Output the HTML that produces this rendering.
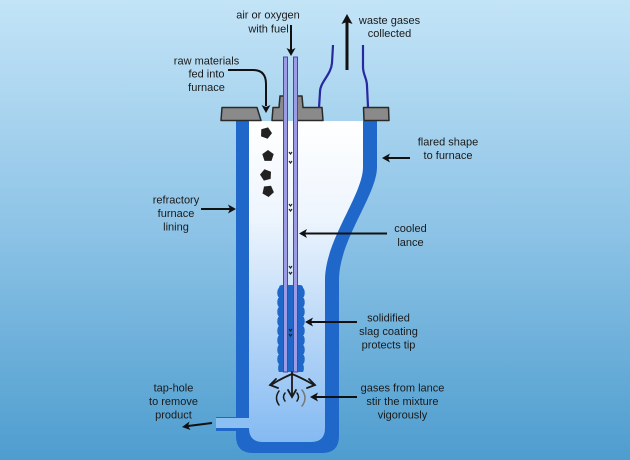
<!DOCTYPE html>
<html><head><meta charset="utf-8">
<style>
html,body{margin:0;padding:0;width:630px;height:460px;overflow:hidden;}
svg{display:block;}
text{font-family:"Liberation Sans",sans-serif;font-size:11px;fill:#1a1a1a;text-anchor:middle;}
</style></head>
<body>
<svg width="630" height="460" viewBox="0 0 630 460" xmlns="http://www.w3.org/2000/svg">
<defs>
<linearGradient id="bg" x1="0" y1="0" x2="0" y2="1">
<stop offset="0" stop-color="#c3e4f7"/>
<stop offset="0.5" stop-color="#8dc3e6"/>
<stop offset="1" stop-color="#4e9dcf"/>
</linearGradient>
<linearGradient id="inner" x1="0" y1="121" x2="0" y2="442" gradientUnits="userSpaceOnUse">
<stop offset="0" stop-color="#ffffff"/>
<stop offset="0.3" stop-color="#eef5fd"/>
<stop offset="1" stop-color="#84baf2"/>
</linearGradient>
</defs>
<rect width="630" height="460" fill="url(#bg)"/>

<!-- furnace walls -->
<path d="M236,121 L377,121 L377,167 C377,195 339,240 339,280 L339,436 Q339,453 322,453 L253,453 Q236,453 236,436 Z" fill="#1f67c9"/>
<!-- inner -->
<path d="M249,121 L363,121 L363,167 C363,195 325,240 325,280 L325,428 Q325,442 311,442 L263,442 Q249,442 249,428 Z" fill="url(#inner)"/>
<!-- tap hole -->
<rect x="216" y="417" width="33" height="14" fill="#1f67c9"/>
<rect x="216" y="418" width="36" height="10" fill="#8cc0f2"/>

<!-- raw material lumps -->
<g fill="#222">
<polygon points="0,-6 5.7,-1.9 3.5,4.9 -3.5,4.9 -5.7,-1.9" transform="translate(266,133) rotate(20)"/>
<polygon points="0,-6 5.7,-1.9 3.5,4.9 -3.5,4.9 -5.7,-1.9" transform="translate(268,156) rotate(0)"/>
<polygon points="0,-6 5.7,-1.9 3.5,4.9 -3.5,4.9 -5.7,-1.9" transform="translate(266,175) rotate(-15)"/>
<polygon points="0,-6 5.7,-1.9 3.5,4.9 -3.5,4.9 -5.7,-1.9" transform="translate(268,191) rotate(30)"/>
</g>

<!-- slag coating -->
<path d="M279,288 Q279,285 282,285 L300,285 Q303,285 303,288
a2,4.8 0 0 1 0,9.5 a2,4.8 0 0 1 0,9.5 a2,4.8 0 0 1 0,9.5 a2,4.8 0 0 1 0,9.5 a2,4.8 0 0 1 0,9.5 a2,4.8 0 0 1 0,9.5 a2,4.8 0 0 1 0,9.5 a2,4.8 0 0 1 0,9.5 a2,4.8 0 0 1 0,8
L279,372
a2,4.8 0 0 1 0,-8 a2,4.8 0 0 1 0,-9.5 a2,4.8 0 0 1 0,-9.5 a2,4.8 0 0 1 0,-9.5 a2,4.8 0 0 1 0,-9.5 a2,4.8 0 0 1 0,-9.5 a2,4.8 0 0 1 0,-9.5 a2,4.8 0 0 1 0,-9.5 a2,4.8 0 0 1 0,-9.5 Z" fill="#1f67c9"/>

<!-- lid pieces -->
<g fill="#8a8a8a" stroke="#2a2a2a" stroke-width="1.5" stroke-linejoin="round">
<path d="M222,107.5 L257,107.5 L261,120.5 L221,120.5 Z"/>
<path d="M272,120.5 L273,107.5 L279,107.5 L280,96 L284,96 L285,120.5 Z"/>
<path d="M297,120.5 L297,96 L302,96 L303,107.5 L322,107.5 L323,120.5 Z"/>
<path d="M363.5,107.5 L388.5,107.5 L389,120.5 L364,120.5 Z"/>
</g>

<!-- lance tubes -->
<rect x="283.5" y="57" width="4" height="315" fill="#9c9ce6" stroke="#4646b0" stroke-width="1"/>
<rect x="293.5" y="57" width="4" height="315" fill="#9c9ce6" stroke="#4646b0" stroke-width="1"/>

<!-- chevrons inside lance -->
<g fill="none" stroke="#222" stroke-width="1.2">
<path d="M289,152 l1.5,2 l1.5,-2"/><path d="M289,161 l1.5,2 l1.5,-2"/>
<path d="M289,204 l1.5,2 l1.5,-2"/><path d="M289,209 l1.5,2 l1.5,-2"/>
<path d="M289,266 l1.5,2 l1.5,-2"/><path d="M289,272 l1.5,2 l1.5,-2"/>
<path d="M289,329 l1.5,2 l1.5,-2"/><path d="M289,334 l1.5,2 l1.5,-2"/>
</g>

<!-- waste gas pipes -->
<g fill="none" stroke="#2828a0" stroke-width="2.2">
<path d="M333,45 L332,63 C331,75 320,82 320,92 L319,108"/>
<path d="M363,45 L363,67 C363,75 367,78 367,86 L368,107"/>
</g>

<!-- gas jet arrows at tip -->
<g fill="none" stroke="#1a1a1a" stroke-width="1.8" stroke-linecap="round">
<path d="M292,372 L292,396"/>
<path d="M288,390 L292,397 L296,390"/>
<path d="M292,374 Q282,378 271,385"/>
<path d="M276,379 L270,385 L278,388"/>
<path d="M292,374 Q302,378 314,385"/>
<path d="M309,379 L315,385 L307,388"/>
<path d="M279,391 Q274,398 279,405" stroke-width="1.5"/>
<path d="M285,393 Q282,397 285,401" stroke-width="1.5"/>
<path d="M297,393 Q300,397 297,401" stroke-width="1.5"/>
<path d="M302,390 Q308,398 302,406" stroke="#777" stroke-width="1.5"/>
</g>

<!-- label arrows -->
<g stroke="#111" stroke-width="2" fill="none">
<line x1="291" y1="25" x2="291" y2="50"/>
<line x1="347" y1="70" x2="347" y2="22" stroke-width="3"/>
<path d="M228,70 L253,70 Q266,70 266,84 L266,106"/>
<line x1="410" y1="158" x2="387" y2="158"/>
<line x1="387" y1="233.5" x2="304" y2="233.5"/>
<line x1="201" y1="209" x2="230" y2="209"/>
<line x1="357" y1="322" x2="310" y2="322"/>
<line x1="357" y1="397" x2="315" y2="397"/>
<line x1="212" y1="423" x2="188" y2="426"/>
</g>
<g fill="#111">
<polygon points="291,56 286.5,48 291,50 295.5,48"/>
<polygon points="347,14 341.5,24 347,22 352.5,24"/>
<polygon points="266,113 261.5,105 266,107 270.5,105"/>
<polygon points="382,158 390,153.5 388,158 390,162.5"/>
<polygon points="299,233.5 307,229 305,233.5 307,238"/>
<polygon points="236,209 228,204.5 230,209 228,213.5"/>
<polygon points="305,322 313,317.5 311,322 313,326.5"/>
<polygon points="310,397 318,392.5 316,397 318,401.5"/>
<polygon points="182,427 189.5,421.5 188,426 190.5,430"/>
</g>

<!-- labels -->
<text x="268" y="18.5">air or oxygen</text>
<text x="268.5" y="32.5">with fuel</text>
<text x="389.5" y="24">waste gases</text>
<text x="389.5" y="37">collected</text>
<text x="206.5" y="64.5">raw materials</text>
<text x="206.5" y="77.5">fed into</text>
<text x="206.5" y="91">furnace</text>
<text x="448" y="145.5">flared shape</text>
<text x="448" y="159">to furnace</text>
<text x="176" y="203.5">refractory</text>
<text x="176" y="217">furnace</text>
<text x="176" y="230.5">lining</text>
<text x="410.5" y="232">cooled</text>
<text x="410.5" y="246">lance</text>
<text x="388.5" y="321.5">solidified</text>
<text x="388.5" y="335">slag coating</text>
<text x="388.5" y="348.5">protects tip</text>
<text x="402.5" y="391.5">gases from lance</text>
<text x="402.5" y="405">stir the mixture</text>
<text x="402.5" y="418.5">vigorously</text>
<text x="173.5" y="391.5">tap-hole</text>
<text x="173.5" y="405">to remove</text>
<text x="173.5" y="418.5">product</text>
</svg>
</body></html>
